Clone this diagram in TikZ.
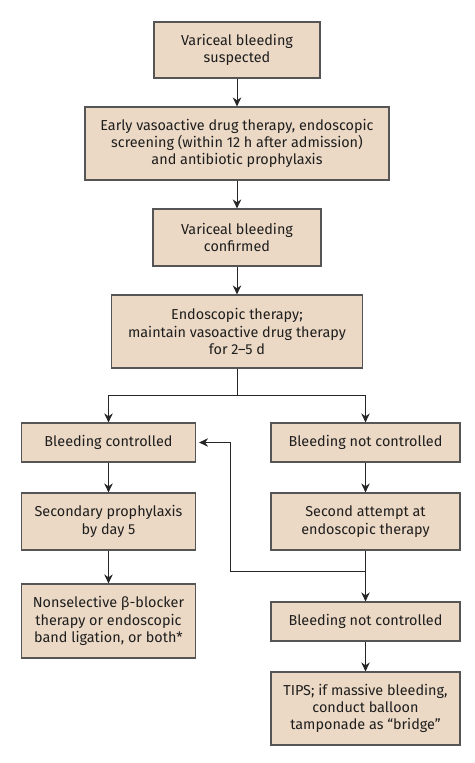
\documentclass[tikz,border=0pt]{standalone}
\usepackage{fontspec}
\setmainfont{Fira Sans}
\usetikzlibrary{arrows.meta}
\definecolor{boxfill}{RGB}{236,217,197}
\definecolor{boxline}{RGB}{85,85,85}
\definecolor{txt}{RGB}{30,30,30}
\begin{document}
\begin{tikzpicture}[x=1pt,y=-1pt,
  box/.style={draw=boxline,fill=boxfill,line width=1.2pt,align=center,
    inner sep=0pt,text=txt,font=\fontsize{14.4}{17.3}\selectfont},
  arr/.style={draw=black!85,line width=0.9pt,-{Stealth[length=9pt,width=8.5pt]}},
  ln/.style={draw=black!85,line width=0.9pt}]
\useasboundingbox (0,0) rectangle (474,763);
\node[box,minimum width=166pt,minimum height=56pt] (b1) at (237,50) {Variceal bleeding\\suspected};
\node[box,minimum width=304pt,minimum height=73pt] (b2) at (237,143.5) {Early vasoactive drug therapy, endoscopic\\screening (within 12 h after admission)\\and antibiotic prophylaxis};
\node[box,minimum width=168pt,minimum height=57pt] (b3) at (237,237.5) {Variceal bleeding\\confirmed};
\node[box,minimum width=251pt,minimum height=73pt] (b4) at (237,331.5) {Endoscopic therapy;\\maintain vasoactive drug therapy\\for 2--5 d};
\node[box,minimum width=174pt,minimum height=39pt] (bc) at (108.5,442.5) {Bleeding controlled};
\node[box,minimum width=189pt,minimum height=39pt] (bnc) at (365.5,442.5) {Bleeding not controlled};
\node[box,minimum width=174pt,minimum height=57pt] (sp) at (108.5,521.5) {Secondary prophylaxis\\by day 5};
\node[box,minimum width=189pt,minimum height=57pt] (sa) at (365.5,521.5) {Second attempt at\\endoscopic therapy};
\node[box,minimum width=174pt,minimum height=74pt] (ns) at (108.5,621) {Nonselective β-blocker\\therapy or endoscopic\\band ligation, or both*};
\node[box,minimum width=189pt,minimum height=39pt] (bnc2) at (365.5,621.5) {Bleeding not controlled};
\node[box,minimum width=189pt,minimum height=73pt] (tips) at (365.5,708.5) {TIPS; if massive bleeding,\\conduct balloon\\tamponade as “bridge”};
\coordinate (j) at (237,395);
\coordinate (f) at (365.5,571);
\coordinate (fb) at (230,571);
\draw[arr] (b1) -- (b2);
\draw[arr] (b2) -- (b3);
\draw[arr] (b3) -- (b4);
\draw[ln] (b4.south) -- (j);
\draw[arr] (j) -| (bc.north);
\draw[arr] (j) -| (bnc.north);
\draw[arr] (bc) -- (sp);
\draw[arr] (sp) -- (ns);
\draw[arr] (bnc) -- (sa);
\draw[ln] (sa.south) -- (f);
\draw[arr] (f) -- (bnc2.north);
\draw[arr,shorten >=3pt] (f) -- (fb) |- (bc.east);
\draw[arr] (bnc2) -- (tips);
\end{tikzpicture}
\end{document}
